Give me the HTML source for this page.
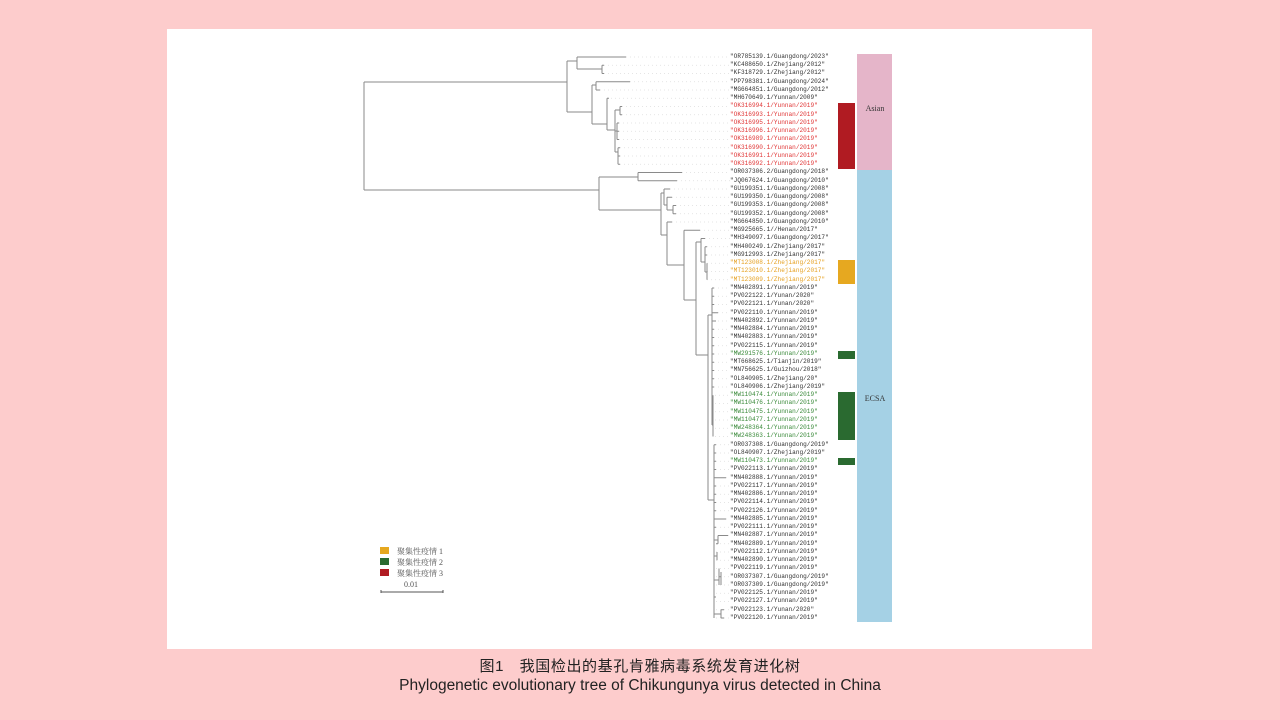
<!DOCTYPE html>
<html><head><meta charset="utf-8"><style>
body{margin:0;width:1280px;height:720px;background:#fdcccc;position:relative;overflow:hidden;font-family:"Liberation Sans","Noto Sans CJK SC",sans-serif}
#panel{position:absolute;left:167px;top:29px;width:925px;height:620px;background:#fff}
#labels{position:absolute;left:730px;top:52.9px;font-family:"Liberation Mono","Noto Sans CJK SC",monospace;font-size:6.1px;color:#333;line-height:8.25px;white-space:nowrap}
#labels div{height:8.25px}
.r{color:#e03535}.o{color:#e6a020}.g{color:#3a8a3a}
.cap{position:absolute;left:0;width:1280px;text-align:center;color:#222}
.lg{position:absolute;font-family:"Liberation Serif","Noto Serif CJK SC",serif;font-size:8px;color:#555}
</style></head><body>
<div id="panel"></div>
<svg width="1280" height="720" style="position:absolute;left:0;top:0">
<g stroke="#ddd" stroke-width="0.8" stroke-dasharray="1,3">
<path d="M626 57H730M604 65.25H730M604 73.5H730M630 81.75H730M600 90H730M607 98.25H730M622 106.5H730M622 114.75H730M619 123H730M619 131.25H730M619 139.5H730M620 147.75H730M620 156H730M620 164.25H730M682 172.5H730M677 180.75H730M670 189H730M672 197.25H730M676 205.5H730M676 213.75H730M672 222H730M700 230.25H730"/>
<path d="M705 238.5H730M707 246.75H730M707 255H730M707 263.25H730M707 271.5H730M707 279.75H730"/>
<path d="M714 288H730M714 296.25H730M714 304.5H730M714 312.75H730M714 321H730M714 329.25H730M714 337.5H730M714 345.75H730M714 354H730M714 362.25H730M714 370.5H730M714 378.75H730M714 387H730M715 395.25H730M715 403.5H730M715 411.75H730M715 420H730M715 428.25H730M715 436.5H730"/>
<path d="M716 444.75H730M716 453H730M716 461.25H730M716 469.5H730M726 477.75H730M716 486H730M716 494.25H730M716 502.5H730M716 510.75H730M726 519H730M716 527.25H730M728 535.5H730M716 543.75H730M716 552H730M716 560.25H730M716 568.5H730M716 576.75H730M716 585H730M716 593.25H730M716 601.5H730M716 609.75H730M716 618H730"/>
</g>
<g stroke="#8a8a8a" stroke-width="1" fill="none">
<path d="M364 82V190M364 82H567M364 190H599"/>
<path d="M567 61V112M567 61H577M577 57V69M577 57H626M577 69H602M602 65.25V73.5M602 65.25H604M602 73.5H604"/>
<path d="M567 112H592M592 85V124M592 85H596M596 81.75V90M596 81.75H630M596 90H600M592 124H607M607 98.25V130M607 98.25H609M607 130H615M615 110V152M615 110H620M620 106.5V114.75M620 106.5H622M620 114.75H622M615 131H617M617 123V139.5M617 123H619M617 131.25H619M617 139.5H619M615 152H618M618 147.75V164.25M618 147.75H620M618 156H620M618 164.25H620"/>
<path d="M599 177V210M599 177H638M638 172.5V180.75M638 172.5H682M638 180.75H677"/>
<path d="M599 210H661M661 193V235M661 193H664M664 189V205M664 189H670M664 205H667M667 197.25V210M667 197.25H672M667 210H673M673 205.5V213.75M673 205.5H676M673 213.75H676"/>
<path d="M661 235H667M667 222V265M667 222H672M667 265H684M684 230.25V300M684 230.25H700M684 300H696M696 242V355M696 242H701M701 238.5V262M701 238.5H705M701 262H705M705 246.75V272M705 246.75H707M705 255H707M705 272H707M707 263.25V279.75"/>
<path d="M696 355H708M708 315V500M708 315H712M712 288V425M712 288H714M712 296.25H714M712 304.5H714M712 312.75H718M712 321H716M712 329.25H714M712 337.5H714M712 345.75H714M712 354H714M712 362.25H714M712 370.5H714M712 378.75H714M712 387H714M712 425H713M713 395.25V436.5"/>
<path d="M708 500H714M714 444.75V618M714 444.75H716M714 453H716M714 461.25H716M714 469.5H716M714 477.75H726M714 486H716M714 494.25H716M714 502.5H716M714 510.75H716M714 519H726M714 527.25H716M714 540H718M718 535.5V543.75M718 535.5H728M718 543.75H716M714 556H717M717 552V560.25M714 580H719M719 568.5V585M719 576.75H721M721 572V585M714 597H716M714 614H721M721 609.75V618M721 609.75H724M721 618H724"/>
</g>
<rect x="857" y="54" width="35" height="116" fill="#e5b5c9"/>
<rect x="857" y="170" width="35" height="452" fill="#a5d1e5"/>
<rect x="838" y="103" width="17" height="66" fill="#b01b22"/>
<rect x="838" y="260" width="17" height="24" fill="#e6a820"/>
<rect x="838" y="351" width="17" height="8" fill="#2a6a30"/>
<rect x="838" y="392" width="17" height="48" fill="#2a6a30"/>
<rect x="838" y="458" width="17" height="7" fill="#2a6a30"/>
<text x="875" y="111" font-family="Liberation Serif" font-size="8" fill="#333" text-anchor="middle">Asian</text>
<text x="875" y="401" font-family="Liberation Serif" font-size="8" fill="#333" text-anchor="middle">ECSA</text>
<rect x="380" y="547" width="9" height="7" fill="#e6a820"/>
<rect x="380" y="558" width="9" height="7" fill="#2a6a30"/>
<rect x="380" y="569" width="9" height="7" fill="#b01b22"/>
<path d="M381 592H443M381 590V593M443 590V593" stroke="#555" stroke-width="1"/>
</svg>
<div class="lg" style="left:397px;top:546px">聚集性疫情 1</div>
<div class="lg" style="left:397px;top:557px">聚集性疫情 2</div>
<div class="lg" style="left:397px;top:568px">聚集性疫情 3</div>
<div class="lg" style="left:404px;top:580px">0.01</div>
<div id="labels"><div>"OR785139.1/Guangdong/2023"</div><div>"KC488650.1/Zhejiang/2012"</div><div>"KF318729.1/Zhejiang/2012"</div><div>"PP798381.1/Guangdong/2024"</div><div>"MG664851.1/Guangdong/2012"</div><div>"MH670649.1/Yunnan/2009"</div><div class="r">"OK316994.1/Yunnan/2019"</div><div class="r">"OK316993.1/Yunnan/2019"</div><div class="r">"OK316995.1/Yunnan/2019"</div><div class="r">"OK316996.1/Yunnan/2019"</div><div class="r">"OK316989.1/Yunnan/2019"</div><div class="r">"OK316990.1/Yunnan/2019"</div><div class="r">"OK316991.1/Yunnan/2019"</div><div class="r">"OK316992.1/Yunnan/2019"</div><div>"OR037306.2/Guangdong/2018"</div><div>"JQ067624.1/Guangdong/2010"</div><div>"GU199351.1/Guangdong/2008"</div><div>"GU199350.1/Guangdong/2008"</div><div>"GU199353.1/Guangdong/2008"</div><div>"GU199352.1/Guangdong/2008"</div><div>"MG664850.1/Guangdong/2010"</div><div>"MG925665.1//Henan/2017"</div><div>"MH349097.1/Guangdong/2017"</div><div>"MH400249.1/Zhejiang/2017"</div><div>"MG912993.1/Zhejiang/2017"</div><div class="o">"MT123008.1/Zhejiang/2017"</div><div class="o">"MT123010.1/Zhejiang/2017"</div><div class="o">"MT123009.1/Zhejiang/2017"</div><div>"MN402891.1/Yunnan/2019"</div><div>"PV022122.1/Yunan/2020"</div><div>"PV022121.1/Yunan/2020"</div><div>"PV022110.1/Yunnan/2019"</div><div>"MN402892.1/Yunnan/2019"</div><div>"MN402884.1/Yunnan/2019"</div><div>"MN402883.1/Yunnan/2019"</div><div>"PV022115.1/Yunnan/2019"</div><div class="g">"MW291576.1/Yunnan/2019"</div><div>"MT668625.1/Tianjin/2019"</div><div>"MN756625.1/Guizhou/2018"</div><div>"OL840905.1/Zhejiang/20"</div><div>"OL840906.1/Zhejiang/2019"</div><div class="g">"MW110474.1/Yunnan/2019"</div><div class="g">"MW110476.1/Yunnan/2019"</div><div class="g">"MW110475.1/Yunnan/2019"</div><div class="g">"MW110477.1/Yunnan/2019"</div><div class="g">"MW248364.1/Yunnan/2019"</div><div class="g">"MW248363.1/Yunnan/2019"</div><div>"OR037308.1/Guangdong/2019"</div><div>"OL840907.1/Zhejiang/2019"</div><div class="g">"MW110473.1/Yunnan/2019"</div><div>"PV022113.1/Yunnan/2019"</div><div>"MN402888.1/Yunnan/2019"</div><div>"PV022117.1/Yunnan/2019"</div><div>"MN402886.1/Yunnan/2019"</div><div>"PV022114.1/Yunnan/2019"</div><div>"PV022126.1/Yunnan/2019"</div><div>"MN402885.1/Yunnan/2019"</div><div>"PV022111.1/Yunnan/2019"</div><div>"MN402887.1/Yunnan/2019"</div><div>"MN402889.1/Yunnan/2019"</div><div>"PV022112.1/Yunnan/2019"</div><div>"MN402890.1/Yunnan/2019"</div><div>"PV022119.1/Yunnan/2019"</div><div>"OR037307.1/Guangdong/2019"</div><div>"OR037309.1/Guangdong/2019"</div><div>"PV022125.1/Yunnan/2019"</div><div>"PV022127.1/Yunnan/2019"</div><div>"PV022123.1/Yunan/2020"</div><div>"PV022120.1/Yunnan/2019"</div></div>
<div class="cap" style="top:655px;font-size:15px;letter-spacing:0.6px">图1　我国检出的基孔肯雅病毒系统发育进化树</div>
<div class="cap" style="top:677px;font-size:15.5px">Phylogenetic evolutionary tree of Chikungunya virus detected in China</div>
</body></html>
